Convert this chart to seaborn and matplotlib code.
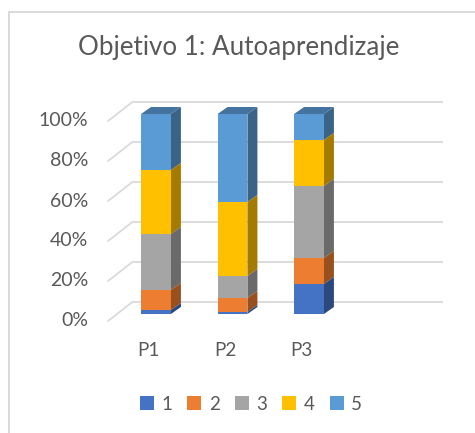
import numpy as np
import pandas as pd
import matplotlib
matplotlib.use("Agg")
import matplotlib.pyplot as plt
import seaborn as sns
from matplotlib.patches import Polygon, Rectangle, Patch
from matplotlib.colors import to_rgb

# ---------------- data ----------------
categories = ["P1", "P2", "P3"]
series_names = ["1", "2", "3", "4", "5"]
s1 = [0.02, 0.01, 0.15]
s2 = [0.10, 0.07, 0.13]
s3 = [0.28, 0.11, 0.36]
s4 = [0.32, 0.37, 0.23]
s5 = [0.28, 0.44, 0.13]
colors = ["#4472C4", "#ED7D31", "#A5A5A5", "#FFC000", "#5B9BD5"]
y_ticks = [0.0, 0.2, 0.4, 0.6, 0.8, 1.0]
y_tick_labels = ["0%", "20%", "40%", "60%", "80%", "100%"]
title = "Objetivo 1: Autoaprendizaje"

# ---------------- style ----------------
sns.set_theme(style="white")
plt.rcParams["font.family"] = ["Lato", "DejaVu Sans"]
TXT = "#595959"
GRID = "#D9D9D9"

W, H = 475, 433
fig = plt.figure(figsize=(W / 100, H / 100), dpi=100)

# axes mapping (pixels)
x0px, xs = 156.0, 76.5
y0px, ys = 314.0, 200.0
xlim = (-0.75, 4.1)
ylim = (-0.06, 1.10)
left = x0px + xlim[0] * xs
right = x0px + xlim[1] * xs
bot_px = y0px - ylim[0] * ys
top_px = y0px - ylim[1] * ys
ax = fig.add_axes([left / W, 1 - bot_px / H, (right - left) / W, (bot_px - top_px) / H])

# 3D offsets (data units)
bar_dx, bar_dy = 10 / xs, 7 / ys
back_x0, back_x1, back_dy = (133 - x0px) / xs, (443 - x0px) / xs, 12.5 / ys
front_x, front_dy = (108 - x0px) / xs, -7 / ys

# gridlines (back wall + floor diagonal)
for v in y_ticks:
    ax.plot([back_x0, back_x1], [v + back_dy, v + back_dy], color=GRID, lw=1.3, zorder=1,
            solid_capstyle="butt")
    ax.plot([front_x, back_x0], [v + front_dy, v + back_dy], color=GRID, lw=1.3, zorder=1)

# stacked bars via seaborn (cumulative, drawn from top down)
series = np.array([s1, s2, s3, s4, s5])
cum = np.cumsum(series, axis=0)
for i in reversed(range(len(series))):
    sns.barplot(x=categories, y=cum[i], color=colors[i], width=0.39, saturation=1,
                linewidth=0, ax=ax, zorder=3)

def shade(c, f):
    r, g, b = to_rgb(c)
    return (r * f, g * f, b * f)

n = len(series)
for k, cont in enumerate(ax.containers):
    i = n - 1 - k
    for j, p in enumerate(cont.patches):
        xl = p.get_x()
        xr = xl + p.get_width()
        top = cum[i][j]
        bot = cum[i - 1][j] if i > 0 else 0.0
        side = Polygon([(xr, bot), (xr + bar_dx, bot + bar_dy), (xr + bar_dx, top + bar_dy), (xr, top)],
                       closed=True, facecolor=shade(colors[i], 0.64), edgecolor="none", zorder=2.5)
        ax.add_patch(side)
        if i == n - 1:
            tf = Polygon([(xl, top), (xl + bar_dx, top + bar_dy), (xr + bar_dx, top + bar_dy), (xr, top)],
                         closed=True, facecolor=shade(colors[i], 0.74), edgecolor="none", zorder=2.5)
            ax.add_patch(tf)

ax.set_xlim(*xlim)
ax.set_ylim(*ylim)
ax.set_axis_off()

# y tick labels
lab_x = (88 - x0px) / xs
for v, t in zip(y_ticks, y_tick_labels):
    ax.text(lab_x, v + front_dy, t, ha="right", va="center", fontsize=14, color=TXT, clip_on=False)

# category labels
cat_dx = -7.5 / xs
cat_y = (y0px - 351) / ys
for j, c in enumerate(categories):
    ax.text(j + cat_dx, cat_y, c, ha="center", va="center", fontsize=13.5, color=TXT, clip_on=False)

# title
fig.text(238.5 / W, 1 - 47.5 / H, title, ha="center", va="center", fontsize=18.7, color=TXT)

# legend
handles = [Patch(facecolor=c, edgecolor="none") for c in colors]
leg = fig.legend(handles, series_names, ncol=5, loc="center", bbox_to_anchor=(251 / W, 1 - 404 / H),
                 frameon=False, handlelength=0.75, handleheight=0.75, handletextpad=0.4,
                 columnspacing=0.8, fontsize=13.5)
for t in leg.get_texts():
    t.set_color(TXT)

# chart area border
fig.add_artist(Rectangle((8.5 / W, -0.2), 1.5, (1 - 11.5 / H) + 0.2, transform=fig.transFigure,
                         fill=False, edgecolor=GRID, lw=1.4))

fig.savefig("out.png", dpi=100)
